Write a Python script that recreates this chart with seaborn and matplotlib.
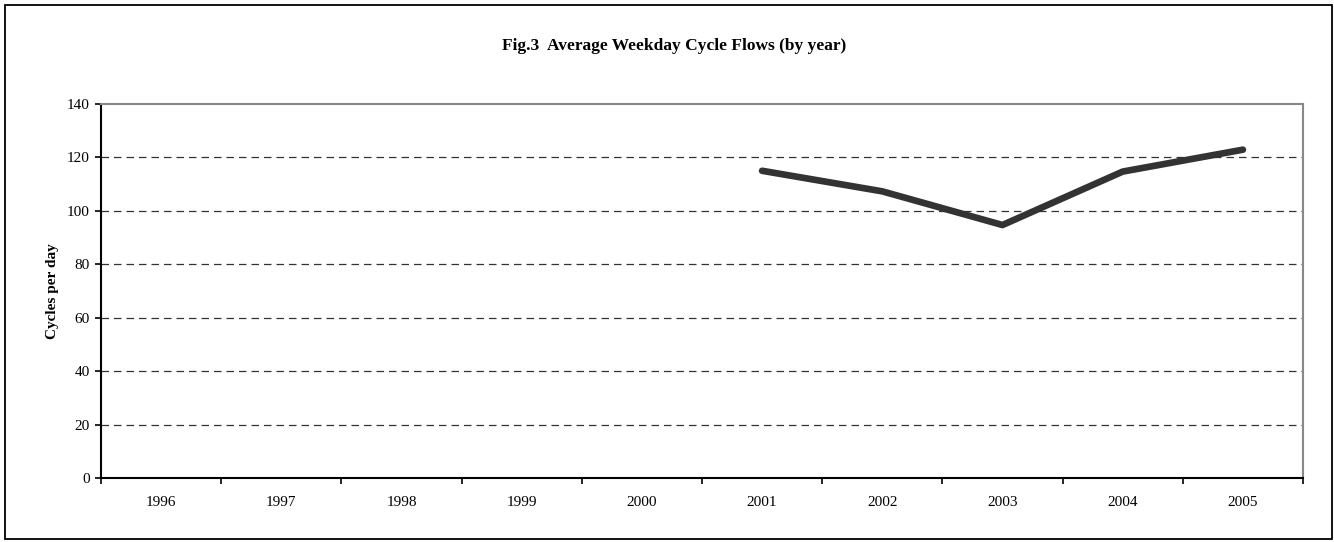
import numpy as np
import matplotlib
matplotlib.use("Agg")
import matplotlib.pyplot as plt
import seaborn as sns
from matplotlib.patches import Rectangle

years = ["1996", "1997", "1998", "1999", "2000", "2001", "2002", "2003", "2004", "2005"]
flows = [np.nan, np.nan, np.nan, np.nan, np.nan, 115.0, 107.3, 94.7, 114.7, 122.9]
y_ticks = [0, 20, 40, 60, 80, 100, 120, 140]

TITLE = "Fig.3  Average Weekday Cycle Flows (by year)"
YLABEL = "Cycles per day"


def main():
    sns.set_theme(style="white")
    plt.rcParams["font.family"] = ["Liberation Serif", "DejaVu Serif"]
    plt.rcParams.update({"text.color": "black", "axes.labelcolor": "black",
                         "xtick.color": "black", "ytick.color": "black"})

    fig = plt.figure(figsize=(13.34, 5.42), dpi=100)
    ax = fig.add_axes([101 / 1334, 1 - 478 / 542, (1303 - 101) / 1334, (478 - 104) / 542])

    pos = np.arange(len(years))
    sns.lineplot(x=pos, y=flows, ax=ax, color="#333333", linewidth=4.8,
                 solid_capstyle="round", solid_joinstyle="round")

    ax.set_xlim(-0.5, len(years) - 0.5)
    ax.set_ylim(0, 140)

    # category boundaries get the tick marks, labels sit in between
    ax.set_xticks(np.arange(len(years) + 1) - 0.5)
    ax.set_xticklabels([])
    ax.set_xticks(pos, minor=True)
    ax.set_xticklabels(years, minor=True, fontsize=11)
    ax.tick_params(axis="x", which="major", direction="out", length=4, width=1.2,
                   color="black", bottom=True)
    ax.tick_params(axis="x", which="minor", length=0, pad=13)

    ax.set_yticks(y_ticks)
    ax.set_yticklabels([str(v) for v in y_ticks], fontsize=11)
    ax.tick_params(axis="y", direction="out", length=4, width=1.2, color="black",
                   left=True, pad=4)

    for v in y_ticks[1:-1]:
        ax.axhline(v, color="#333333", linewidth=0.9, linestyle=(0, (6, 4)), zorder=0)

    for side in ["left", "bottom"]:
        ax.spines[side].set_color("black")
        ax.spines[side].set_linewidth(1.5)
    for side in ["top", "right"]:
        ax.spines[side].set_color("#888888")
        ax.spines[side].set_linewidth(1.5)

    ax.set_xlabel("")
    ax.set_ylabel(YLABEL, fontsize=11, fontweight="bold", labelpad=6)

    fig.text(674 / 1334, 1 - 46 / 542, TITLE, ha="center", va="center",
             fontsize=12.5, fontweight="bold")

    fig.patches.append(Rectangle((5 / 1334, 3 / 542), 1327 / 1334, 534 / 542,
                                 transform=fig.transFigure, fill=False,
                                 edgecolor="black", linewidth=1.3))

    fig.savefig("out.png", dpi=100)


if __name__ == "__main__":
    main()
